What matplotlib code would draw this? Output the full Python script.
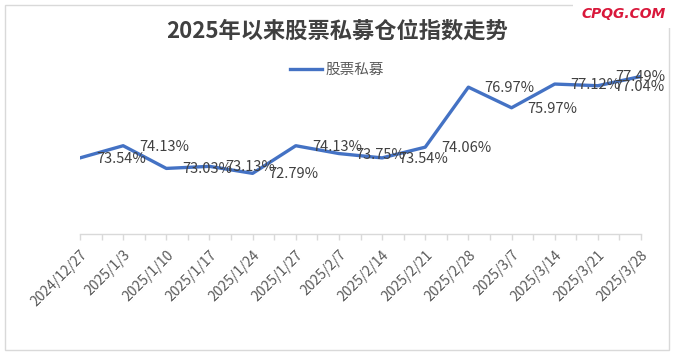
import matplotlib
matplotlib.use('Agg')
import matplotlib.pyplot as plt
from matplotlib.patches import Rectangle
from matplotlib.ticker import FixedLocator

plt.rcParams['font.family'] = ['Noto Sans CJK SC', 'DejaVu Sans']

# 数据
dates = ['2024/12/27', '2025/1/3', '2025/1/10', '2025/1/17', '2025/1/24', '2025/1/27', '2025/2/7',
         '2025/2/14', '2025/2/21', '2025/2/28', '2025/3/7', '2025/3/14', '2025/3/21', '2025/3/28']
position = [73.54, 74.13, 73.03, 73.13, 72.79, 74.13, 73.75,
            73.54, 74.06, 76.97, 75.97, 77.12, 77.04, 77.49]
series_name = '股票私募'
title = '2025年以来股票私募仓位指数走势'

W, H = 674, 353
fig = plt.figure(figsize=(W / 100, H / 100), dpi=100)

# chart border
fig.patches.append(Rectangle((5 / W, 3 / H), 664 / W, 345 / H, transform=fig.transFigure,
                             fill=False, edgecolor='#D9D9D9', linewidth=1))
# watermark box covering the border top-right
fig.patches.append(Rectangle((573 / W, (H - 28) / H), 101 / W, 28 / H, transform=fig.transFigure,
                             facecolor='white', edgecolor='none', zorder=5))

ax = fig.add_axes([80 / W, (H - 234) / H, (641 - 80) / W, (234 - 69) / H])
x = list(range(len(dates)))
ax.plot(x, position, color='#4472C4', linewidth=2.4, solid_joinstyle='round', label=series_name, zorder=3)

for i, v in enumerate(position):
    dx = 16 if i < len(position) - 1 else -26
    ax.annotate(f'{v:.2f}%', (i, v), xytext=(dx, -1), textcoords='offset pixels',
                ha='left', va='center', fontsize=10.5, color='#404040', zorder=4)

ax.set_xlim(0, len(dates) - 1)
ax.set_ylim(69.85, 77.85)
ax.set_yticks([])
for s in ['left', 'right', 'top']:
    ax.spines[s].set_visible(False)
ax.spines['bottom'].set_color('#D9D9D9')
ax.spines['bottom'].set_linewidth(1)

ax.set_xticks(x)
ax.xaxis.set_minor_locator(FixedLocator([i + 0.5 for i in x[:-1]]))
ax.tick_params(axis='x', which='both', length=4, color='#D9D9D9', width=1, direction='out')
ax.set_xticklabels(dates, rotation=45, ha='right', va='top', rotation_mode='anchor',
                   fontsize=10, color='#595959')
for lbl in ax.get_xticklabels():
    lbl.set_y(-0.02)

fig.text(0.5, 1 - 31 / H, title, ha='center', va='center', fontsize=16, fontweight='bold', color='#404040')
ax.legend(loc='center', bbox_to_anchor=(337 / W, 1 - 70 / H), bbox_transform=fig.transFigure,
          frameon=False, fontsize=10.5, handlelength=2.2, handletextpad=0.3, labelcolor='#595959')

fig.text(624 / W, 1 - 14 / H, 'CPQG.COM', ha='center', va='center', fontsize=10, fontweight='bold',
         style='italic', color='#D9183B', family='DejaVu Sans', zorder=6)

plt.savefig('out.png', dpi=100)
